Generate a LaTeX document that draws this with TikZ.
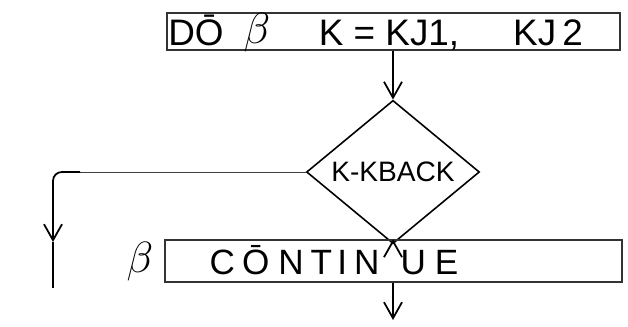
\documentclass[tikz,border=0pt]{standalone}
\usepackage{fontspec}
\setmainfont{Liberation Sans}
\usetikzlibrary{arrows.meta,positioning,shapes.geometric}

\begin{document}
\begin{tikzpicture}[x=0.02cm,y=-0.02cm,>={Straight Barb[length=3.2mm,width=3.6mm]},stmtbox/.style={draw=black!80,line width=0.7pt,inner sep=0pt},testbox/.style={draw=black,line width=0.9pt,diamond,minimum width=3.46cm,minimum height=1.64cm,inner sep=0pt,font=\fontsize{16}{18}\selectfont},word/.style={inner sep=0pt,anchor=base,font=\fontsize{21}{24}\selectfont},flow/.style={line width=1pt,->}]
\useasboundingbox (0,0) rectangle (628,327);
% DO statement
\node[stmtbox,minimum width=9.06cm,minimum height=0.74cm] (doloop) at (393.5,31.5) {};
\node[word] (kw) at (196,46) {D\=O};
\node[word,font=\fontsize{26}{30}\selectfont] (lbl) at (257,44) {$\beta$};
\node[word] (range) at (389,46) {K = KJ1,};
\node[word] (upper) at (548,46) {KJ\,2};
% test
\node[testbox] (test) at (393,172) {K-KBACK};
% CONTINUE statement
\node[stmtbox,minimum width=9.14cm,minimum height=0.84cm] (cont) at (393.5,261) {};
\node[word,font=\fontsize{20}{24}\selectfont] (conttext) at (334,275) {C\hspace{4pt}\=O\hspace{5pt}N\hspace{4pt}T\hspace{3pt}I\hspace{4pt}N\hspace{12pt}U\hspace{5pt}E};
\node[font=\fontsize{24}{28}\selectfont] (lab) at (140,262) {$\beta$};
\coordinate (bend) at (80,172);
\coordinate (corner) at (53,172);
\coordinate (mid) at (53,242);
\coordinate (tail) at (53,288);
\coordinate (exit) at (393,320);
\draw[flow] (doloop.south -| test.north) -- (test.north);
\draw[flow] (test.south) -- (cont.north -| test.south);
\draw[flow] (cont.south -| test.south) -- (exit);
% loop back
\draw[line width=0.5pt,black!75] (test.west) -- (bend);
\draw[flow,rounded corners=5pt] (bend) -- (corner) -- (mid);
\draw[line width=1pt] (mid) -- (tail);
\end{tikzpicture}
\end{document}
